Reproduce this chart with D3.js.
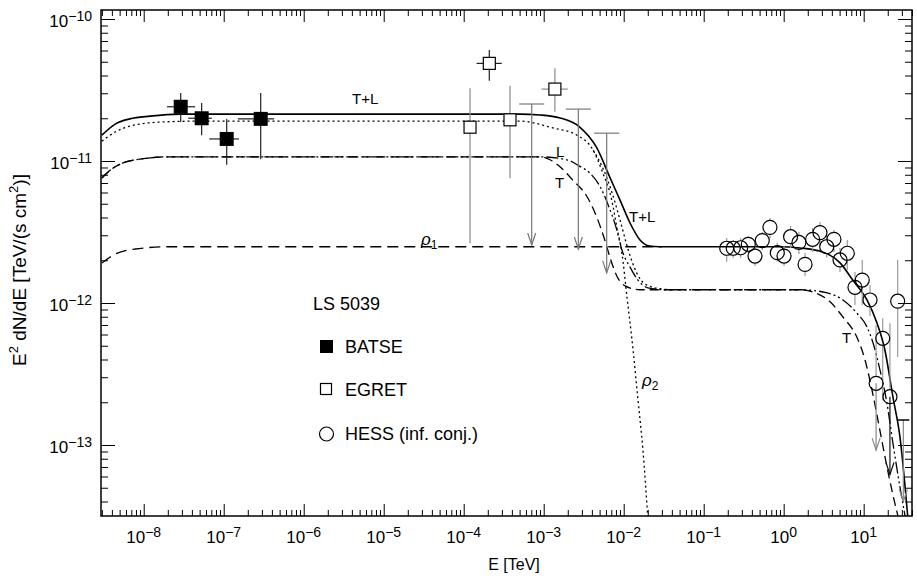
<!DOCTYPE html>
<html>
<head>
<meta charset="utf-8">
<script src="https://cdn.jsdelivr.net/npm/d3@7.9.0/dist/d3.min.js"></script>
<style>
  body { margin: 0; background: #fff; }
  svg { display: block; font-family: "Liberation Sans", Arial, sans-serif; }
</style>
</head>
<body>
<svg id="chart" width="917" height="586"></svg>
<script>
// model curves, [E (TeV), E^2 dN/dE]
const curveTL = [[3e-9,1.52e-11],[4.4e-9,1.82e-11],[6.7e-9,1.98e-11],[1.2e-8,2.07e-11],[2.8e-8,2.14e-11],
  [5e-4,2.14e-11],[9e-4,2.11e-11],[1.6e-3,2.01e-11],[2.8e-3,1.74e-11],[4.6e-3,1.24e-11],[6.7e-3,7.7e-12],
  [9e-3,5.3e-12],[0.012,3.66e-12],[0.016,2.78e-12],[0.021,2.52e-12],[0.028,2.49e-12],[0.9,2.49e-12],
  [1.6,2.44e-12],[2.8,2.32e-12],[5.1,1.91e-12],[7.3,1.45e-12],[11,1.05e-12],[14.7,7.2e-13],[18.4,4.67e-13],
  [23.2,2.18e-13],[28.4,1.14e-13],[35.6,3.1e-14]];
const curveRho2 = [[3e-9,1.38e-11],[4.4e-9,1.6e-11],[6.7e-9,1.76e-11],[1.6e-8,1.88e-11],[5e-8,1.91e-11],
  [5e-4,1.91e-11],[1.3e-3,1.71e-11],[2.6e-3,1.52e-11],[4.15e-3,1.19e-11],[5.5e-3,8.2e-12],[7.1e-3,5.3e-12],
  [8.2e-3,3.43e-12],[9.5e-3,2.25e-12],[0.011,1.1e-12],[0.0131,4.67e-13],[0.0151,2.07e-13],[0.0174,9.2e-14],
  [0.02,3.1e-14]];
const curveDot2 = [[4.15e-3,1.19e-11],[5.5e-3,8.9e-12],[7.1e-3,6.05e-12],[9e-3,3.84e-12],[0.0114,2.36e-12],
  [0.0144,1.65e-12],[0.0184,1.36e-12],[0.0285,1.26e-12],[0.04,1.24e-12]];
const curveT = [[3e-9,7.6e-12],[3.8e-9,8.6e-12],[5.5e-9,9.7e-12],[9e-9,1.03e-11],[2.1e-8,1.07e-11],
  [9e-4,1.07e-11],[1.2e-3,1.02e-11],[1.6e-3,9.1e-12],[2.3e-3,7.35e-12],[3.5e-3,5.58e-12],[4.6e-3,4.03e-12],
  [5.8e-3,2.78e-12],[6.9e-3,2.01e-12],[8.2e-3,1.55e-12],[0.0104,1.32e-12],[0.016,1.24e-12],[1.6,1.24e-12],
  [2.46,1.18e-12],[3.8,1.02e-12],[5.5,7.97e-13],[8.2,5.76e-13],[10.4,3.97e-13],[12.7,2.44e-13],[15.5,1.38e-13],
  [19,7.6e-14],[23.2,4.45e-14],[26.8,3.16e-14]];
const curveL = [[3e-9,7.6e-12],[3.8e-9,8.6e-12],[5.5e-9,9.7e-12],[9e-9,1.03e-11],[2.1e-8,1.07e-11],
  [9e-4,1.07e-11],[1.95e-3,1.02e-11],[2.8e-3,9.2e-12],[3.8e-3,8.2e-12],[5.1e-3,6.56e-12],[6.4e-3,4.9e-12],
  [8.2e-3,3.27e-12],[9.5e-3,2.36e-12],[0.012,1.79e-12],[0.0151,1.45e-12],[0.02,1.28e-12],[0.033,1.24e-12],
  [1.6,1.24e-12],[3.5,1.18e-12],[5.5,1.05e-12],[8.2,8.5e-13],[11,6.78e-13],[13.1,5.23e-13],[16,3.37e-13],
  [19.5,1.98e-13],[23.2,1.03e-13],[28.4,5.06e-14],[32.9,3.16e-14]];
const curveRho1 = [[3e-9,1.91e-12],[4.4e-9,2.21e-12],[7.8e-9,2.4e-12],[2.1e-8,2.49e-12],[0.03,2.49e-12]];

// BATSE
const batseE = [2.9e-8, 5.3e-8, 1.09e-7, 2.9e-7];
const batseF = [2.41e-11, 2.0e-11, 1.43e-11, 1.98e-11];
const batseElo = [1.95e-8, 3.6e-8, 6.6e-8, 1.51e-7];
const batseEhi = [4.4e-8, 7.1e-8, 1.55e-7, 4.25e-7];
const batseFlo = [1.88e-11, 1.52e-11, 9.4e-12, 1.03e-11];
const batseFhi = [3.01e-11, 2.56e-11, 1.98e-11, 3.01e-11];

// EGRET
const egretE = [1.2e-4, 2.09e-4, 3.79e-4, 1.38e-3];
const egretF = [1.73e-11, 4.87e-11, 1.95e-11, 3.21e-11];
const egretElo = [1.2e-4, 1.45e-4, 3.79e-4, 9.4e-4];
const egretEhi = [1.2e-4, 2.99e-4, 3.79e-4, 2.0e-3];
const egretFlo = [2.63e-12, 3.67e-11, 7.55e-12, 2.22e-11];
const egretFhi = [3.25e-11, 6.05e-11, 3.39e-11, 4.5e-11];
const egretUlE = [7.08e-4, 2.71e-3, 6.13e-3];
const egretUlF = [2.52e-11, 2.32e-11, 1.57e-11];
const egretUlTip = [2.56e-12, 2.4e-12, 1.63e-12];

// HESS
const hessE = [0.194,0.234,0.29,0.361,0.438,0.54,0.674,0.832,1.01,1.22,1.55,1.85,2.3,2.84,3.45,4.25,5.06,
  6.24,7.78,9.6,12.0,17.3,26.6,14.3,21.3];
const hessF = [2.43e-12,2.43e-12,2.45e-12,2.59e-12,2.14e-12,2.75e-12,3.41e-12,2.26e-12,2.14e-12,2.93e-12,
  2.67e-12,1.87e-12,2.81e-12,3.13e-12,2.49e-12,2.81e-12,2.01e-12,2.24e-12,1.29e-12,1.45e-12,1.05e-12,
  5.64e-13,1.03e-12,2.72e-13,2.19e-13];
const hessHi = [2.87e-12,2.78e-12,2.87e-12,2.96e-12,2.52e-12,3.16e-12,3.97e-12,2.65e-12,2.52e-12,3.48e-12,
  3.16e-12,2.25e-12,3.37e-12,3.72e-12,2.96e-12,3.27e-12,2.44e-12,2.78e-12,1.65e-12,2.01e-12,1.34e-12,
  7.8e-13,2.01e-12,7.0e-13,7.2e-13];
const hessLo = [1.95e-12,2.08e-12,2.08e-12,2.21e-12,1.82e-12,2.36e-12,2.87e-12,1.95e-12,1.82e-12,2.44e-12,
  2.21e-12,1.55e-12,2.29e-12,2.6e-12,2.08e-12,2.29e-12,1.65e-12,1.71e-12,9.7e-13,9.7e-13,8.1e-13,
  2.07e-13,4.17e-13,9.2e-14,6.2e-14];
const hessUl = [false,false,false,false,false,false,false,false,false,false,false,false,false,false,false,
  false,false,false,false,false,false,false,false,true,true];
const hessUlE = [31.3];
const hessUlF = [1.5e-13];
const hessUlTip = [4.0e-14];

const xMajor = [1e-8,1e-7,1e-6,1e-5,1e-4,1e-3,1e-2,1e-1,1,10];
const xExp = ['−8','−7','−6','−5','−4','−3','−2','−1','0','1'];
const yMajor = [1e-10,1e-11,1e-12,1e-13];
const yExp = ['−10','−11','−12','−13'];

const L = 101, R = 912, T = 10, B = 516;
const svg = d3.select('#chart');
const x = d3.scaleLog().domain([Math.pow(10,-8.534), Math.pow(10,1.604)]).range([L, R]);
const y = d3.scaleLog().domain([Math.pow(10,-13.5), Math.pow(10,-9.9366)]).range([B, T]);

svg.append('defs').append('clipPath').attr('id','clip')
  .append('rect').attr('x',L).attr('y',T).attr('width',R-L).attr('height',B-T);

// minor ticks
function minors(lo, hi, a, b) {
  let out = [];
  for (let n = a; n <= b; n++) for (let k = 2; k <= 9; k++) {
    let v = k * Math.pow(10, n);
    if (v > lo && v < hi) out.push(v);
  }
  return out;
}
const xMin = minors(x.domain()[0], x.domain()[1], -9, 1);
const yMin = minors(y.domain()[0], y.domain()[1], -14, -10);

function drawAxis(axisFn, scale, vals, size, tr) {
  let g = svg.append('g').attr('transform', tr)
    .call(axisFn(scale).tickValues(vals).tickSize(size).tickFormat(''));
  g.select('.domain').remove();
  g.selectAll('line').attr('stroke','#000').attr('stroke-width',1);
}
drawAxis(d3.axisBottom, x, xMin, -6, `translate(0,${B})`);
drawAxis(d3.axisBottom, x, xMajor, -12, `translate(0,${B})`);
drawAxis(d3.axisTop, x, xMin, -6, `translate(0,${T})`);
drawAxis(d3.axisTop, x, xMajor, -12, `translate(0,${T})`);
drawAxis(d3.axisLeft, y, yMin, -7, `translate(${L},0)`);
drawAxis(d3.axisLeft, y, yMajor, -14, `translate(${L},0)`);
drawAxis(d3.axisRight, y, yMin, -7, `translate(${R},0)`);
drawAxis(d3.axisRight, y, yMajor, -14, `translate(${R},0)`);

svg.append('rect').attr('x',L).attr('y',T).attr('width',R-L).attr('height',B-T)
  .attr('fill','none').attr('stroke','#000').attr('stroke-width',1.5);

// tick labels
xMajor.forEach((v, i) => {
  let t = svg.append('text').attr('x', x(v)).attr('y', 543).attr('text-anchor','middle')
    .attr('font-size', 17);
  t.append('tspan').text('10');
  t.append('tspan').attr('font-size', 14).attr('dy', -6).text(xExp[i]);
});
yMajor.forEach((v, i) => {
  let t = svg.append('text').attr('x', 92).attr('y', y(v) + 8).attr('text-anchor','end')
    .attr('font-size', 17);
  t.append('tspan').text('10');
  t.append('tspan').attr('font-size', 14).attr('dy', -6).text(yExp[i]);
});

svg.append('text').attr('x', 514).attr('y', 570).attr('text-anchor','middle')
  .attr('font-size', 16).text('E [TeV]');

let yl = svg.append('text').attr('transform','translate(26,270) rotate(-90)')
  .attr('text-anchor','middle').attr('font-size', 19);
yl.append('tspan').text('E');
yl.append('tspan').attr('font-size', 13).attr('dy', -8).text('2');
yl.append('tspan').attr('dy', 8).text(' dN/dE [TeV/(s cm');
yl.append('tspan').attr('font-size', 13).attr('dy', -8).text('2');
yl.append('tspan').attr('dy', 8).text(')]');

// curves
const line = d3.line().x(d => x(d[0])).y(d => y(d[1])).curve(d3.curveMonotoneX);
const cg = svg.append('g').attr('clip-path','url(#clip)').attr('fill','none').attr('stroke','#000');
cg.append('path').attr('d', line(curveRho1)).attr('stroke-width',1.3).attr('stroke-dasharray','11,6');
cg.append('path').attr('d', line(curveRho2)).attr('stroke-width',1.3).attr('stroke-dasharray','2,3');
cg.append('path').attr('d', line(curveDot2)).attr('stroke-width',1.3).attr('stroke-dasharray','2,3');
cg.append('path').attr('d', line(curveT)).attr('stroke-width',1.3).attr('stroke-dasharray','9,5');
cg.append('path').attr('d', line(curveL)).attr('stroke-width',1.3).attr('stroke-dasharray','12,3,2,3,2,3');
cg.append('path').attr('d', line(curveTL)).attr('stroke-width',1.6);

// curve labels
function lab(txt, px, py, size) {
  svg.append('text').attr('x', px).attr('y', py).attr('font-size', size || 15).text(txt);
}
lab('T+L', 352, 104);
lab('L', 556, 157);
lab('T', 555, 188);
lab('T+L', 629, 222);
lab('T', 842, 343);
function rho(px, py, sub) {
  let t = svg.append('text').attr('x', px).attr('y', py).attr('font-size', 17);
  t.append('tspan').attr('font-style','italic').text('ρ');
  t.append('tspan').attr('font-size', 12).attr('dy', 4).text(sub);
}
rho(421, 245, '1');
rho(642, 386, '2');

// upper-limit arrow
function arrow(xv, top, tip, color, capW) {
  let px = x(xv), y0 = y(top), y1 = y(tip);
  let g = svg.append('g').attr('stroke', color).attr('stroke-width', 1.2).attr('fill','none');
  g.append('line').attr('x1',px).attr('x2',px).attr('y1',y0).attr('y2',y1);
  if (capW) g.append('line').attr('x1',px-capW/2).attr('x2',px+capW/2).attr('y1',y0).attr('y2',y0);
  g.append('path').attr('d', `M${px-4},${y1-12}L${px},${y1}L${px+4},${y1-12}`);
}

// EGRET
egretE.forEach((e, i) => {
  let g = svg.append('g').attr('stroke', i === 1 ? '#222' : '#888').attr('stroke-width', 1.2);
  g.append('line').attr('x1',x(e)).attr('x2',x(e)).attr('y1',y(egretFlo[i])).attr('y2',y(egretFhi[i]));
  g.append('line').attr('x1',x(egretElo[i])).attr('x2',x(egretEhi[i])).attr('y1',y(egretF[i])).attr('y2',y(egretF[i]));
});
egretUlE.forEach((e, i) => arrow(e, egretUlF[i], egretUlTip[i], '#777', 25));
egretE.forEach((e, i) => {
  svg.append('rect').attr('x', x(e)-6).attr('y', y(egretF[i])-6).attr('width',12).attr('height',12)
    .attr('fill','#fff').attr('stroke','#000').attr('stroke-width',1.2);
});

// BATSE
batseE.forEach((e, i) => {
  let g = svg.append('g').attr('stroke','#222').attr('stroke-width',1.2);
  g.append('line').attr('x1',x(e)).attr('x2',x(e)).attr('y1',y(batseFlo[i])).attr('y2',y(batseFhi[i]));
  g.append('line').attr('x1',x(batseElo[i])).attr('x2',x(batseEhi[i])).attr('y1',y(batseF[i])).attr('y2',y(batseF[i]));
  svg.append('rect').attr('x', x(e)-7).attr('y', y(batseF[i])-7).attr('width',14).attr('height',14)
    .attr('fill','#000');
});

// HESS
const r = 7;
hessE.forEach((e, i) => {
  let px = x(e), py = y(hessF[i]);
  let g = svg.append('g').attr('stroke', '#999').attr('stroke-width', 1.2);
  if (y(hessHi[i]) < py - r) g.append('line').attr('x1',px).attr('x2',px).attr('y1',y(hessHi[i])).attr('y2',py-r);
  if (hessUl[i]) {
    arrow(e, hessF[i], hessLo[i], i === 24 ? '#111' : '#888', 0);
  } else if (y(hessLo[i]) > py + r) {
    g.append('line').attr('x1',px).attr('x2',px).attr('y1',py+r).attr('y2',y(hessLo[i]));
  }
});
hessUlE.forEach((e, i) => arrow(e, hessUlF[i], hessUlTip[i], '#888', 0));
hessUlE.forEach((e, i) => svg.append('line').attr('x1',x(e)-6).attr('x2',x(e)+6)
  .attr('y1',y(hessUlF[i])).attr('y2',y(hessUlF[i])).attr('stroke','#000').attr('stroke-width',1.5));
hessE.forEach((e, i) => {
  svg.append('circle').attr('cx', x(e)).attr('cy', y(hessF[i])).attr('r', r)
    .attr('fill','none').attr('stroke','#000').attr('stroke-width',1.2);
});

// legend
lab('LS 5039', 313, 310, 18);
svg.append('rect').attr('x',320).attr('y',340).attr('width',13).attr('height',13).attr('fill','#000');
lab('BATSE', 345, 353, 18);
svg.append('rect').attr('x',320.5).attr('y',383.5).attr('width',11).attr('height',11)
  .attr('fill','none').attr('stroke','#000').attr('stroke-width',1.2);
lab('EGRET', 345, 396, 18);
svg.append('circle').attr('cx',326.5).attr('cy',434).attr('r',7)
  .attr('fill','none').attr('stroke','#000').attr('stroke-width',1.2);
lab('HESS (inf. conj.)', 345, 440, 18);
</script>
</body>
</html>
